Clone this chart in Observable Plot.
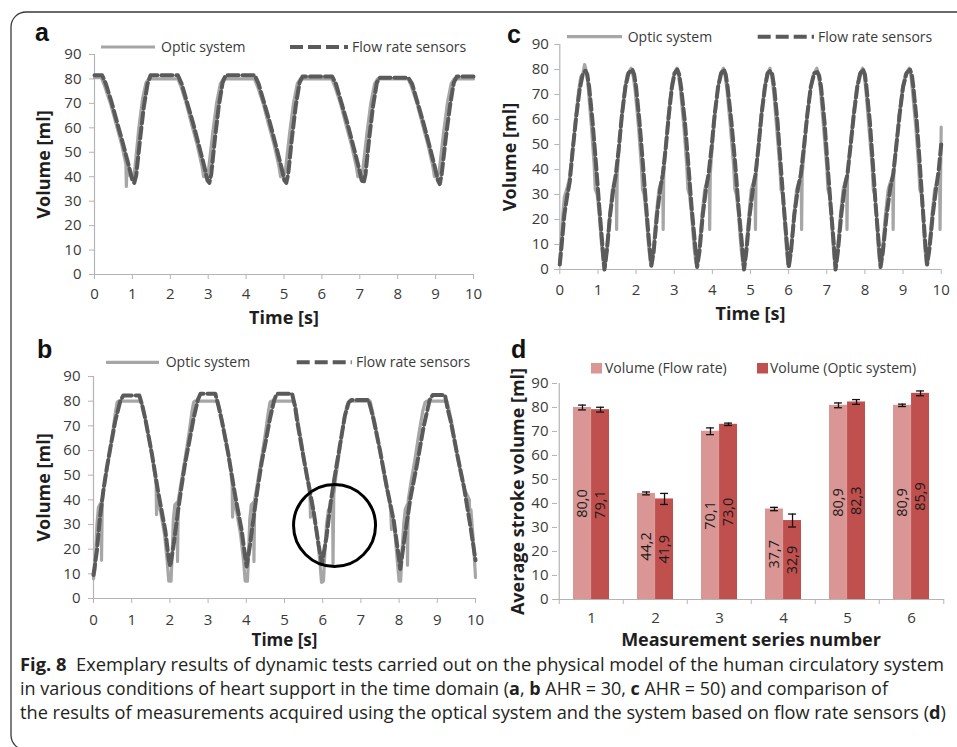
<!DOCTYPE html>
<html><head><meta charset="utf-8">
<script src="https://cdn.jsdelivr.net/npm/d3@7"></script>
<script src="https://cdn.jsdelivr.net/npm/@observablehq/plot@0.6"></script>
<style>
html,body{margin:0;padding:0;background:#fff;}
#root{position:relative;width:957px;height:747px;overflow:hidden;font-family:"Open Sans",sans-serif;}
#root > div{position:absolute;}
#overlay{position:absolute;left:0;top:0;pointer-events:none;}
</style></head>
<body><div id="root"></div>
<script>
// ---------- DATA ----------
const timeTicks = [0,1,2,3,4,5,6,7,8,9,10];
const volumeTicks = [0,10,20,30,40,50,60,70,80,90];

// Panel a: [time s, volume ml]
const aFlow = [[0,81.5],[0.2,81.5],[0.3,78],[0.45,70.5],[0.6,62],[0.77,52.5],[0.92,43.5],[1.0,38.5],[1.05,37.5],[1.1,40.5],[1.2,55],[1.3,68.5],[1.4,78],[1.48,81.5],[2.2,81.5],
[2.3,78],[2.44,70.5],[2.6,62],[2.76,52.5],[2.9,44],[2.98,38.5],[3.03,37.5],[3.08,41],[3.18,56],[3.28,69],[3.38,78.5],[3.46,81.5],[4.23,81.5],
[4.33,78],[4.47,70.5],[4.63,62],[4.79,52.5],[4.93,44],[5.01,38.5],[5.06,37.5],[5.11,41],[5.21,56],[5.31,69],[5.41,78.5],[5.49,81],[6.27,81],
[6.37,78],[6.51,70.5],[6.67,62],[6.83,52.5],[6.97,44],[7.05,38.5],[7.1,37.5],[7.15,41],[7.25,56],[7.35,69],[7.45,78.5],[7.53,80.5],[8.28,80.5],
[8.38,78],[8.52,70.5],[8.68,62],[8.84,52.5],[8.98,44],[9.06,38.5],[9.11,37],[9.16,41],[9.27,56],[9.38,69],[9.48,78.5],[9.56,81],[10,81]];
const aOptic = [[0,80.5],[0.18,80.5],[0.27,77],[0.42,70],[0.58,61],[0.72,53],[0.83,45],[0.84,36],[0.86,44],[0.93,40.5],[1.02,39.5],[1.07,44],[1.17,60],[1.27,72],[1.36,78.5],[1.43,80],[2.2,80],
[2.28,77],[2.42,70],[2.57,61],[2.71,53],[2.84,44],[2.88,40],[2.96,40],[3.01,43],[3.12,58],[3.22,70],[3.32,78],[3.4,80],[4.22,80],
[4.3,77],[4.45,70],[4.6,61],[4.74,53],[4.87,44],[4.91,40],[4.99,40],[5.04,43],[5.15,58],[5.25,70],[5.35,78],[5.43,80],[6.26,80],
[6.34,77],[6.49,70],[6.64,61],[6.78,53],[6.91,44],[6.95,40],[7.03,40],[7.08,43],[7.19,58],[7.29,70],[7.39,78],[7.47,80],[8.28,80],
[8.36,77],[8.51,70],[8.66,61],[8.8,53],[8.93,44],[8.97,40],[9.05,40],[9.1,43],[9.21,58],[9.31,70],[9.41,78],[9.49,80],[10,80]];

// Panel b
const bFlow = [[0,9.5],[0.09,19.5],[0.17,33],[0.26,44],[0.35,53],[0.44,61],[0.57,72],[0.7,80],[0.78,82.3],[1.2,82.3],[1.28,78],[1.36,72.5],[1.53,58.5],[1.7,42.5],[1.88,27.5],[1.97,16],[2.01,13],
[2.1,22],[2.2,34],[2.3,45],[2.4,55],[2.5,63],[2.62,73],[2.73,80.5],[2.8,83],[3.19,83],[3.28,77.5],[3.36,72],[3.53,58.5],[3.7,42.5],[3.88,27.5],[3.97,17],[4.01,13],
[4.1,22],[4.2,34],[4.3,45],[4.4,55],[4.5,63],[4.62,73],[4.73,80.5],[4.8,83],[5.2,83],[5.28,77.5],[5.33,72],[5.5,57],[5.68,42],[5.76,35.5],[5.89,22],[5.98,14],
[6.1,25],[6.2,38],[6.3,48],[6.45,62],[6.58,74],[6.68,79.5],[6.75,80.5],[7.2,80.5],[7.27,76.5],[7.34,72],[7.5,60],[7.68,45],[7.86,31.5],[7.99,17],[8.03,12],
[8.17,27.5],[8.3,41],[8.47,54.5],[8.64,69.5],[8.8,80.5],[8.88,82.5],[9.2,82.5],[9.27,77],[9.35,72],[9.52,58.5],[9.7,45],[9.87,29],[10,15.5]];
const bOptic = [[0,8],[0.04,12],[0.09,30],[0.13,37],[0.2,39],[0.21,15.5],[0.23,40],[0.3,48],[0.4,57],[0.5,67],[0.58,76],[0.62,79.5],[0.65,80],[1.25,80],[1.3,77],[1.38,71],[1.5,61],[1.6,51],[1.64,46],[1.65,34],[1.68,42],[1.76,35],[1.86,26],[1.93,15],[1.97,7],[2.03,7],
[2.06,18],[2.09,32],[2.13,38],[2.19,39],[2.2,15],[2.22,40],[2.3,47.5],[2.4,57],[2.5,67],[2.58,76],[2.62,79.5],[2.65,80],[3.25,80],[3.3,77],[3.38,71],[3.5,61],[3.6,51],[3.63,46],[3.64,33],[3.67,41],[3.75,35],[3.85,26],[3.93,15],[3.97,7],[4.03,7],
[4.06,18],[4.09,32],[4.13,38],[4.19,39],[4.2,15],[4.22,40],[4.3,47.5],[4.4,57],[4.5,67],[4.58,76],[4.62,79.5],[4.65,80],[5.25,80],[5.3,77],[5.36,71],[5.48,60],[5.58,50],[5.66,45],[5.68,33],[5.71,40],[5.78,33],[5.87,24],[5.93,14],[5.97,6.5],[6.02,7],
[6.06,20],[6.1,30],[6.15,36],[6.26,38],[6.27,14],[6.29,42],[6.35,50],[6.45,61],[6.55,72],[6.63,78],[6.7,80],[7.24,80],[7.3,76],[7.38,70],[7.5,60],[7.62,49],[7.75,39],[7.78,36],[7.8,28],[7.83,33],[7.9,25],[7.96,14],[8.0,7],[8.04,7],
[8.08,20],[8.12,30],[8.16,36],[8.21,38],[8.22,13.5],[8.24,40],[8.32,48],[8.42,57],[8.52,67],[8.62,76],[8.68,79.5],[8.72,80],[9.25,80],[9.3,77],[9.38,71],[9.5,60],[9.62,50],[9.72,44],[9.84,40],[9.85,30],[9.88,36],[9.95,22],[10,8.5]];
const bHighlight = [[6.31, 29.6]]; // circled region

// Panel c
const cFlow = [[0,2],[0.05,10],[0.12,22],[0.2,30],[0.26,35],[0.34,48],[0.43,61],[0.52,72],[0.6,78],[0.67,79.5],[0.72,78],[0.77,73],[0.86,59],[0.95,42],[1.03,26],[1.11,11],[1.17,0],
[1.23,7],[1.32,22],[1.41,33],[1.47,38],[1.55,49],[1.63,62],[1.72,73],[1.8,78.5],[1.9,80],[1.95,78],[2.0,73],[2.09,59],[2.18,42],[2.26,26],[2.34,11],[2.4,1.5],
[2.46,7],[2.55,22],[2.64,33],[2.7,38],[2.78,49],[2.86,62],[2.94,73],[3.01,78.5],[3.08,80],[3.13,78],[3.18,73],[3.28,59],[3.37,42],[3.45,26],[3.54,11],[3.6,1],
[3.66,7],[3.75,22],[3.84,33],[3.9,38],[3.98,49],[4.06,62],[4.15,73],[4.23,78.5],[4.3,80],[4.35,78],[4.4,73],[4.5,59],[4.6,42],[4.68,26],[4.77,11],[4.83,0],
[4.89,7],[4.98,22],[5.07,33],[5.13,38],[5.21,49],[5.29,62],[5.38,73],[5.45,78.5],[5.52,79.5],[5.57,78],[5.62,73],[5.71,59],[5.79,42],[5.87,26],[5.95,11],[6.0,1],
[6.06,7],[6.15,22],[6.25,33],[6.32,38],[6.4,49],[6.49,62],[6.58,73],[6.67,78.5],[6.75,79],[6.8,77.5],[6.85,73],[6.94,59],[7.02,42],[7.1,26],[7.18,11],[7.23,0],
[7.29,7],[7.38,22],[7.47,33],[7.54,38],[7.62,49],[7.71,62],[7.8,73],[7.88,78.5],[7.95,80],[8.0,78],[8.04,73],[8.13,59],[8.21,42],[8.28,26],[8.36,11],[8.41,1],
[8.47,7],[8.57,22],[8.67,33],[8.74,38],[8.82,49],[8.91,62],[9.0,73],[9.09,78.5],[9.18,80],[9.23,78],[9.27,73],[9.36,59],[9.44,42],[9.51,26],[9.58,11],[9.63,2],
[9.69,8],[9.78,22],[9.87,33],[9.93,39],[10,50]];
const cOptic = [[0,3],[0.04,12],[0.08,22],[0.12,29],[0.16,31],[0.2,33],[0.25,36],[0.33,47],[0.42,61],[0.5,72],[0.55,77],[0.6,78],[0.65,82],[0.7,79],[0.75,72],[0.83,57],[0.9,42],[0.93,32],[0.98,30],[1.03,23],[1.1,9],[1.15,1.5],[1.19,1],
[1.24,9],[1.31,22],[1.38,32],[1.44,35],[1.48,37],[1.49,16],[1.505,38],[1.55,48],[1.63,62],[1.71,73],[1.77,78],[1.87,80.5],[1.93,77],[1.98,71],[2.07,56],[2.14,41],[2.17,32],[2.21,30],[2.26,23],[2.33,9],[2.38,2.5],[2.41,2],
[2.46,9],[2.53,22],[2.6,32],[2.66,35],[2.7,37],[2.71,16],[2.725,38],[2.77,48],[2.85,62],[2.93,73],[2.99,78],[3.07,80.5],[3.12,77],[3.17,71],[3.26,56],[3.33,41],[3.36,32],[3.4,30],[3.45,23],[3.52,9],[3.57,2.5],[3.61,2],
[3.66,9],[3.73,22],[3.8,32],[3.86,35],[3.92,37],[3.93,16],[3.945,38],[3.99,48],[4.07,62],[4.15,73],[4.21,78],[4.29,80.5],[4.34,77],[4.39,71],[4.48,56],[4.56,41],[4.59,32],[4.63,30],[4.68,23],[4.75,9],[4.8,2],[4.84,1],
[4.89,9],[4.96,22],[5.02,32],[5.08,35],[5.12,37],[5.13,16],[5.145,38],[5.2,48],[5.28,62],[5.37,73],[5.43,78],[5.51,80.5],[5.56,77],[5.61,71],[5.69,56],[5.77,41],[5.8,32],[5.84,30],[5.88,23],[5.94,9],[5.98,2],[6.02,1.5],
[6.07,9],[6.14,22],[6.21,32],[6.27,35],[6.33,37],[6.34,16],[6.355,38],[6.41,48],[6.49,62],[6.58,73],[6.65,78],[6.74,80.5],[6.79,77],[6.84,71],[6.92,56],[7.0,41],[7.03,32],[7.07,30],[7.11,23],[7.17,9],[7.21,2],[7.24,1],
[7.29,9],[7.36,22],[7.43,32],[7.48,35],[7.52,37],[7.53,16],[7.545,38],[7.61,48],[7.7,62],[7.79,73],[7.86,78],[7.94,80.5],[7.99,77],[8.03,71],[8.11,56],[8.19,41],[8.22,32],[8.26,30],[8.3,23],[8.35,9],[8.39,2.5],[8.42,2],
[8.47,9],[8.54,22],[8.61,32],[8.67,35],[8.73,37],[8.74,16],[8.755,38],[8.81,48],[8.9,62],[8.99,73],[9.06,78],[9.16,80.5],[9.21,77],[9.25,71],[9.34,56],[9.41,41],[9.44,32],[9.48,30],[9.52,23],[9.57,9],[9.61,2.5],[9.64,2],
[9.69,9],[9.76,22],[9.83,32],[9.89,35],[9.96,37],[9.97,16],[9.985,38],[10,57]];

// Panel d
const seriesNumbers = [1,2,3,4,5,6];
const flowVolume = [80.0,44.2,70.1,37.7,80.9,80.9];
const opticVolume = [79.1,41.9,73.0,32.9,82.3,85.9];
const flowError = [1.0,0.6,1.4,0.7,1.0,0.5];
const opticError = [1.0,2.3,0.5,2.7,1.0,1.0];
const seriesNames = ["Volume (Flow rate)","Volume (Optic system)"];
const lineNames = ["Optic system","Flow rate sensors"];

// ---------- STYLE ----------
const axisColor = "#b4b4b4", tickColor = "#3a3a3a", titleColor = "#1e1e1e";
const opticColor = "#a6a6a6", flowColor = "#5a5a5a";
const flowFill = "#d99694", opticFill = "#c0504d";
const FONT = "'Open Sans', sans-serif";
const root = document.getElementById("root");

function place(node, left, top) {
  const wrap = document.createElement("div");
  wrap.style.left = left + "px"; wrap.style.top = top + "px";
  wrap.appendChild(node); root.appendChild(wrap);
}

function linePanel(c) {
  const ml = c.fx0 - c.left, mr = c.left + c.width - c.fx1, mt = c.fy90 - c.top, mb = c.top + c.height - c.fy0;
  const rows = a => a.map(([t, v]) => ({t, v}));
  const p = Plot.plot({
    width: c.width, height: c.height,
    marginLeft: ml, marginRight: mr, marginTop: mt, marginBottom: mb,
    style: {background: "transparent", overflow: "visible", fontFamily: FONT},
    x: {domain: [0, 10]}, y: {domain: [0, 90]},
    marks: [
      Plot.ruleY([0], {stroke: axisColor, strokeWidth: 1.2}),
      Plot.ruleX([0], {stroke: axisColor, strokeWidth: 1.2}),
      Plot.axisX({ticks: timeTicks, tickSize: 5, tickPadding: c.xPad, stroke: axisColor, fill: tickColor, fontSize: 15, label: null}),
      Plot.axisY({ticks: volumeTicks, tickSize: 5, tickPadding: c.yPad, stroke: axisColor, fill: tickColor, fontSize: 15, label: null}),
      Plot.line(rows(c.optic), {x: "t", y: "v", stroke: opticColor, strokeWidth: 3.2, strokeLinejoin: "round"}),
      Plot.line(rows(c.flow), {x: "t", y: "v", stroke: flowColor, strokeWidth: 4, strokeDasharray: "11,4"}),
      Plot.text(["Time [s]"], {text: d => d, frameAnchor: "bottom", dy: c.xTitleDy, textAnchor: "middle", lineAnchor: "middle", fontSize: c.xTitleSize || 18, fontWeight: "bold", fill: titleColor}),
      Plot.text(["Volume [ml]"], {text: d => d, frameAnchor: "left", dx: c.yTitleDx, rotate: -90, textAnchor: "middle", lineAnchor: "middle", fontSize: 18, fontWeight: "bold", fill: titleColor}),
      ...(c.marks || [])
    ]
  });
  place(p, c.left, c.top);
}

linePanel({left: 10, top: 14, width: 470, height: 330, fx0: 94, fx1: 473, fy90: 54, fy0: 274,
  optic: aOptic, flow: aFlow, xPad: 9, yPad: 8, xTitleDy: 43.5, yTitleDx: -50.5});
linePanel({left: 480, top: 14, width: 477, height: 330, fx0: 559.3, fx1: 940.7, fy90: 44, fy0: 269,
  optic: cOptic, flow: cFlow, xPad: 10, yPad: 6, xTitleDy: 44.5, yTitleDx: -50});
linePanel({left: 10, top: 340, width: 470, height: 330, fx0: 93, fx1: 475, fy90: 376, fy0: 598,
  optic: bOptic, flow: bFlow, xPad: 11, yPad: 8, xTitleDy: 42, xTitleSize: 17, yTitleDx: -49.7,
  marks: [Plot.dot(bHighlight.map(([t, v]) => ({t, v})), {x: "t", y: "v", r: 41, stroke: "#000", strokeWidth: 3, fill: "none"})]});

// Panel d (bar chart)
(function () {
  const left = 480, top = 350, width = 477, height = 310;
  const ml = 77, mr = 13, mt = 33, mb = 61;
  const padInner = 0.44, padOuter = 0.22;
  const step = (width - ml - mr) / (seriesNumbers.length - padInner + 2 * padOuter);
  const bw = step * (1 - padInner), half = bw / 2;
  const rows = seriesNumbers.map((s, i) => ({s, flow: flowVolume[i], optic: opticVolume[i], fe: flowError[i], oe: opticError[i]}));
  const fmt = v => v.toFixed(1).replace(".", ",");
  const err = {stroke: "#111", strokeWidth: 1.3};
  const p = Plot.plot({
    width, height, marginLeft: ml, marginRight: mr, marginTop: mt, marginBottom: mb,
    style: {background: "transparent", overflow: "visible", fontFamily: FONT},
    x: {type: "band", domain: seriesNumbers, paddingInner: padInner, paddingOuter: padOuter},
    y: {domain: [0, 90]},
    marks: [
      Plot.barY(rows, {x: "s", y: "flow", fill: flowFill, insetRight: half}),
      Plot.barY(rows, {x: "s", y: "optic", fill: opticFill, insetLeft: half}),
      Plot.ruleX(rows, {x: "s", y1: d => d.flow - d.fe, y2: d => d.flow + d.fe, dx: -half / 2, ...err}),
      Plot.ruleX(rows, {x: "s", y1: d => d.optic - d.oe, y2: d => d.optic + d.oe, dx: half / 2, ...err}),
      Plot.tickY(rows, {x: "s", y: d => d.flow + d.fe, insetLeft: half / 2 - 4, insetRight: bw - half / 2 - 4, ...err}),
      Plot.tickY(rows, {x: "s", y: d => d.flow - d.fe, insetLeft: half / 2 - 4, insetRight: bw - half / 2 - 4, ...err}),
      Plot.tickY(rows, {x: "s", y: d => d.optic + d.oe, insetLeft: bw - half / 2 - 4, insetRight: half / 2 - 4, ...err}),
      Plot.tickY(rows, {x: "s", y: d => d.optic - d.oe, insetLeft: bw - half / 2 - 4, insetRight: half / 2 - 4, ...err}),
      Plot.text(rows, {x: "s", y: d => d.flow / 2, text: d => fmt(d.flow), rotate: -90, dx: -half / 2, fontSize: 14.5, fill: "#1a1a1a"}),
      Plot.text(rows, {x: "s", y: d => d.optic / 2, text: d => fmt(d.optic), rotate: -90, dx: half / 2, fontSize: 14.5, fill: "#1a1a1a"}),
      Plot.ruleY([0], {stroke: axisColor, strokeWidth: 1.2}),
      Plot.ruleX([seriesNumbers[0]], {x: d => d, dx: -step / 2, stroke: axisColor, strokeWidth: 1.2}),
      Plot.axisX({ticks: seriesNumbers, tickSize: 5, tickFormat: () => "", dx: -step / 2, stroke: axisColor, label: null}),
      Plot.axisX({ticks: [seriesNumbers[seriesNumbers.length - 1]], tickSize: 5, tickFormat: () => "", dx: step / 2, stroke: axisColor, label: null}),
      Plot.axisX({ticks: seriesNumbers, tickSize: 0, tickPadding: 12.5, fill: tickColor, fontSize: 15, label: null}),
      Plot.axisY({ticks: volumeTicks, tickSize: 5, tickPadding: 4, stroke: axisColor, fill: tickColor, fontSize: 15, label: null}),
      Plot.text(["Measurement series number"], {text: d => d, frameAnchor: "bottom", dy: 41, textAnchor: "middle", lineAnchor: "middle", fontSize: 18, fontWeight: "bold", fill: titleColor}),
      Plot.text(["Average stroke volume [ml]"], {text: d => d, frameAnchor: "left", dx: -39.5, rotate: -90, textAnchor: "middle", lineAnchor: "middle", fontSize: 18, fontWeight: "bold", fill: titleColor})
    ]
  });
  place(p, left, top);
})();

// ---------- OVERLAY: border, panel letters, legends, caption ----------
const svg = d3.select(root).append("svg").attr("id", "overlay").attr("width", 957).attr("height", 747)
  .style("font-family", FONT);
svg.append("path").attr("d", "M957,12 H26 A15,15 0 0 0 11,27 V735 A15,15 0 0 0 26,750")
  .attr("fill", "none").attr("stroke", "#3a3a3a").attr("stroke-width", 1.3);

[["a", 35, 41], ["c", 507, 43], ["b", 37, 358], ["d", 511, 358]].forEach(([t, x, y]) =>
  svg.append("text").attr("x", x).attr("y", y).text(t)
    .attr("font-family", "'Liberation Sans', Arial, sans-serif").attr("font-weight", "bold").attr("font-size", 25).attr("fill", "#111"));

function lineLegend(y, s0, s1, tx0, d0, d1, tx1) {
  svg.append("line").attr("x1", s0).attr("x2", s1).attr("y1", y).attr("y2", y)
    .attr("stroke", opticColor).attr("stroke-width", 3.2);
  svg.append("text").attr("x", tx0).attr("y", y).attr("dy", "0.35em").text(lineNames[0])
    .attr("font-size", 14).attr("fill", tickColor);
  svg.append("line").attr("x1", d0).attr("x2", d1).attr("y1", y).attr("y2", y)
    .attr("stroke", flowColor).attr("stroke-width", 4).attr("stroke-dasharray", "13,5");
  svg.append("text").attr("x", tx1).attr("y", y).attr("dy", "0.35em").text(lineNames[1])
    .attr("font-size", 14).attr("fill", tickColor);
}
lineLegend(47, 101, 155, 161, 290, 348, 352);
lineLegend(36.7, 567, 622, 627.7, 757.7, 814, 818);
lineLegend(362.3, 106, 159, 165.7, 296.7, 351.7, 356);

[[591, flowFill, 605, seriesNames[0]], [757, opticFill, 770, seriesNames[1]]].forEach(([x, f, tx, t]) => {
  svg.append("rect").attr("x", x).attr("y", 363).attr("width", 11).attr("height", 10.5).attr("fill", f);
  svg.append("text").attr("x", tx).attr("y", 368).attr("dy", "0.35em").text(t).attr("font-size", 14).attr("fill", tickColor);
});

// caption
const capLines = [
  {y: 671, len: 924, parts: [["Fig. 8", true], ["  Exemplary results of dynamic tests carried out on the physical model of the human circulatory system", false]]},
  {y: 695, len: 868, parts: [["in various conditions of heart support in the time domain (", false], ["a", true], [", ", false], ["b", true], [" AHR = 30, ", false], ["c", true], [" AHR = 50) and comparison of", false]]},
  {y: 719, len: 926, parts: [["the results of measurements acquired using the optical system and the system based on flow rate sensors (", false], ["d", true], [")", false]]}
];
capLines.forEach(l => {
  const t = svg.append("text").attr("x", 20).attr("y", l.y).attr("textLength", l.len).attr("lengthAdjust", "spacingAndGlyphs")
    .attr("font-size", 17.5).attr("fill", "#231f20").attr("xml:space", "preserve").style("white-space", "pre");
  l.parts.forEach(([s, b]) => t.append("tspan").text(s).attr("font-weight", b ? "bold" : "normal"));
});
</script>
</body></html>
